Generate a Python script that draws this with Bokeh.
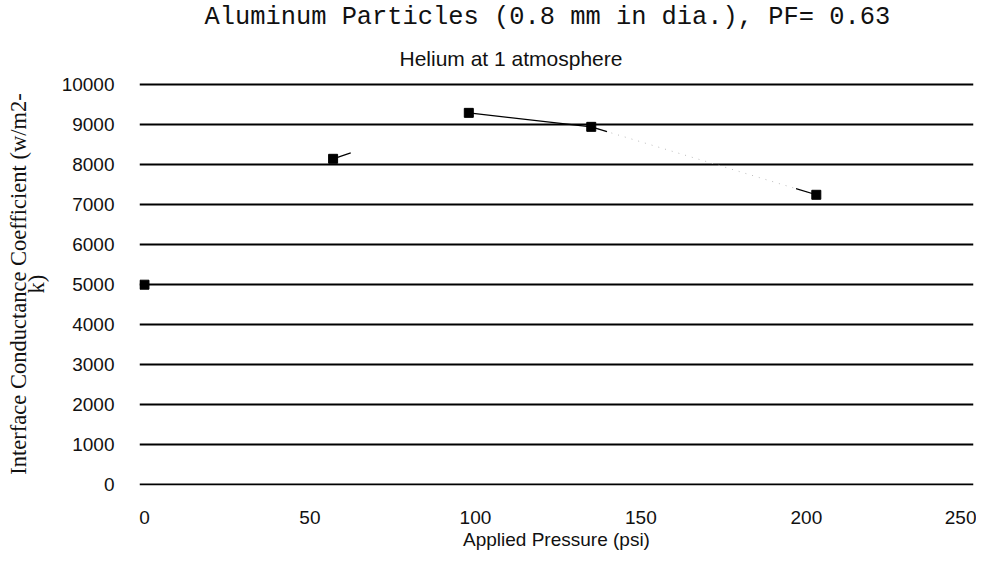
from bokeh.plotting import figure
from bokeh.models import Title, Range1d
from bokeh.embed import file_html
from bokeh.resources import INLINE

# data
pressure = [0, 57, 98, 135, 203]
conductance = [5000, 8150, 9300, 8950, 7250]
x_ticks = [0, 50, 100, 150, 200, 250]
y_ticks = [0, 1000, 2000, 3000, 4000, 5000, 6000, 7000, 8000, 9000, 10000]

title_text = "Aluminum Particles (0.8 mm in dia.), PF= 0.63"
subtitle_text = "Helium at 1 atmosphere"
x_label = "Applied Pressure (psi)"
y_label = "Interface Conductance Coefficient (w/m2-\nk)"

x_lo, x_hi = -1.5, 250.5
y_lo, y_hi = -25, 10060

p = figure(width=976, height=556, output_backend="svg", toolbar_location=None,
           x_range=Range1d(x_lo, x_hi), y_range=Range1d(y_lo, y_hi),
           min_border_left=139, min_border_right=3, min_border_top=81,
           min_border_bottom=71)
p.outline_line_color = None
p.background_fill_color = "white"

sub = Title(text=subtitle_text, align="left", offset=260, text_font="Liberation Sans",
            text_font_size="21px", text_font_style="normal", text_color="#111111",
            standoff=26)
p.add_layout(sub, "above")
main = Title(text=title_text, align="left", offset=65, text_font="Liberation Mono",
             text_font_size="25.4px", text_font_style="normal", text_color="#111111",
             standoff=0)
p.add_layout(main, "above")

# grid
p.xgrid.grid_line_color = None
p.ygrid.grid_line_color = "black"
p.ygrid.grid_line_width = 2
p.yaxis.ticker = y_ticks
p.xaxis.ticker = x_ticks

for ax in (p.xaxis, p.yaxis):
    ax.axis_line_color = None
    ax.major_tick_line_color = None
    ax.minor_tick_line_color = None
    ax.major_tick_out = 0
    ax.major_tick_in = 0
    ax.minor_tick_out = 0
    ax.minor_tick_in = 0
    ax.major_label_text_font = "Liberation Sans"
    ax.major_label_text_font_size = "19px"
    ax.major_label_text_color = "#111111"
    ax.axis_label_text_color = "#111111"
    ax.axis_label_text_font_style = "normal"

p.yaxis.major_label_standoff = 25
p.xaxis.major_label_standoff = 25
p.xaxis.axis_label = x_label
p.xaxis.axis_label_text_font = "Liberation Sans"
p.xaxis.axis_label_text_font_size = "19px"
p.xaxis.axis_label_standoff = 2
p.yaxis.axis_label = y_label
p.yaxis.axis_label_text_font = "Liberation Serif"
p.yaxis.axis_label_text_font_size = "22.5px"
p.yaxis.axis_label_text_line_height = 0.7
p.yaxis.axis_label_standoff = 10

# line pieces (scanned line is mostly faded)
p.line(pressure[3:5], conductance[3:5], line_color="#bbbbbb", line_width=1,
       line_dash="1 6")
full_idx = [2]
p.segment(x0=[pressure[i] for i in full_idx], y0=[conductance[i] for i in full_idx],
          x1=[pressure[i + 1] for i in full_idx], y1=[conductance[i + 1] for i in full_idx],
          line_color="black", line_width=1.2)
# short stubs
stub_start = [1, 3, 4]
stub_end = [2, 4, 3]
stub_frac = [0.13, 0.07, 0.09]
sx0 = [pressure[a] for a in stub_start]
sy0 = [conductance[a] for a in stub_start]
sx1 = [pressure[a] + f * (pressure[b] - pressure[a]) for a, b, f in zip(stub_start, stub_end, stub_frac)]
sy1 = [conductance[a] + f * (conductance[b] - conductance[a]) for a, b, f in zip(stub_start, stub_end, stub_frac)]
p.segment(x0=sx0, y0=sy0, x1=sx1, y1=sy1, line_color="black", line_width=1.2)

p.scatter(pressure, conductance, marker="square", size=9, fill_color="black",
          line_color="black")

open("out.html", "w").write(file_html(p, INLINE))
